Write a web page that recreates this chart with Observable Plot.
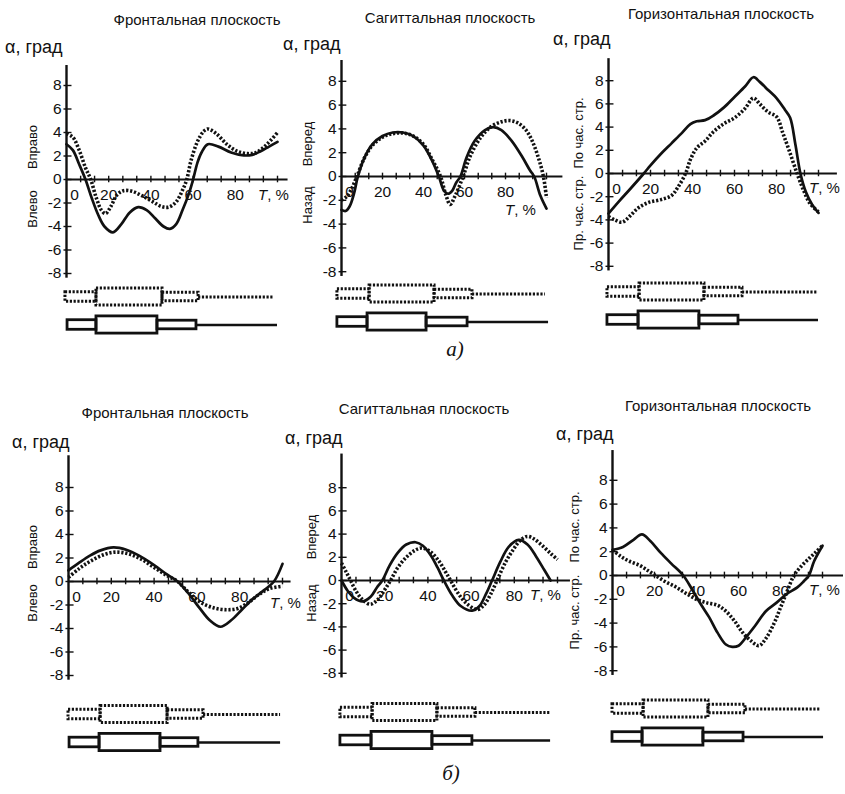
<!DOCTYPE html>
<html><head><meta charset="utf-8">
<script src="https://cdn.jsdelivr.net/npm/d3@7"></script>
<script src="https://cdn.jsdelivr.net/npm/@observablehq/plot@0.6"></script>
<style>
body{margin:0;background:#fff;}
#page{position:relative;width:845px;height:794px;overflow:hidden;font-family:"Liberation Sans",Arial,sans-serif;color:#111;background:#fff;}
#page svg{position:absolute;left:0;top:0;}
.t{position:absolute;white-space:nowrap;line-height:1.1;}
</style></head><body><div id="page"></div>
<script>
// ---------- axis values ----------
const xTicks = [6.7, 13.3, 20, 26.7, 33.3, 40, 46.7, 53.3, 60, 66.7, 73.3, 80, 86.7, 93.3, 100];
const xLabels = [20, 40, 60, 80];
const yTicks = [-8, -6, -4, -2, 0, 2, 4, 6, 8];

// ---------- а) Фронтальная ----------
const fa_s1_T = [0,3,6,9,11.5,14,16.5,18.5,21,24,27,31,36,41,45,48.5,52,55,57,59,62,65,67,71,76,81,86,90,95,100];
const fa_s1_V = [3.9,3.6,2.5,1.0,0,-1.5,-2.6,-2.9,-2.3,-1.3,-0.95,-1.0,-1.4,-1.9,-2.3,-2.35,-1.9,-0.9,0,1.6,3.2,4.1,4.3,3.9,3.0,2.4,2.2,2.3,3.0,4.0];
const fa_s2_T = [0,3,6,9,12,15,18,22,26,30,34,38,42,46,49,52,55,58,60,62,64,67,72,78,84,88,92,96,100];
const fa_s2_V = [3.0,2.5,1.3,0,-1.6,-3.0,-4.0,-4.5,-3.8,-2.8,-2.35,-2.6,-3.3,-4.0,-4.2,-3.8,-2.6,-1.2,0,1.4,2.3,3.0,2.8,2.3,2.05,2.1,2.4,2.8,3.2];
// ---------- а) Сагиттальная ----------
const sa_s1_T = [0,3,5,7.5,11,15,20,25,30,35,40,44,48.3,51,53,55.5,59.3,63,68,73,78,82,86,90,93,96,98.5,100];
const sa_s1_V = [-2.0,-1.6,-1.0,0,1.5,2.6,3.3,3.6,3.65,3.4,2.7,1.5,0,-1.6,-2.35,-1.6,0,1.8,3.3,4.2,4.6,4.7,4.5,3.9,3.0,1.6,0,-1.8];
const sa_s2_T = [0,2,4,6,8,11,15,20,25,30,35,40,44,47.5,50,52,54,56,58,61,65,70,74,78,83,88,92,94,97,100];
const sa_s2_V = [-2.8,-2.9,-2.5,-1.5,0,1.5,2.7,3.4,3.7,3.7,3.4,2.6,1.4,0,-1.2,-1.45,-1.2,-0.5,0,1.6,3.0,3.9,4.15,3.9,3.0,1.7,0.5,0,-1.6,-2.7];
// ---------- а) Горизонтальная ----------
const ha_s1_T = [0,3,6.5,10,14,19,25,30,33,36.7,39,42,46,50,55,60,65,69,72,76,80,83,86,89.8,93,96,100];
const ha_s1_V = [-3.7,-4.0,-4.2,-3.7,-3.0,-2.5,-2.25,-1.9,-1.2,0,1.2,2.2,2.8,3.6,4.3,4.8,5.6,6.5,6.0,5.3,4.9,3.5,2.0,0,-1.5,-2.6,-3.3];
const ha_s2_T = [0,5,10,16.8,20,25,30,35,39,42,46,50,55,60,65,69,72,76,80,84,86.5,89,91.4,94,97,100];
const ha_s2_V = [-3.45,-2.4,-1.4,0,0.7,1.7,2.6,3.5,4.25,4.5,4.6,5.0,5.7,6.6,7.5,8.3,7.9,7.2,6.5,5.5,4.8,2.5,0,-1.6,-2.7,-3.4];
// ---------- б) Фронтальная ----------
const fb_s1_T = [0,5,10,16,22,28,34,40,46,51,56,62,68,74,79,84,89,94,100];
const fb_s1_V = [0.35,1.1,1.7,2.25,2.5,2.35,1.9,1.2,0.5,0,-0.9,-1.8,-2.25,-2.4,-2.3,-1.8,-1.1,-0.6,-0.4];
const fb_s2_T = [0,5,10,15,21,27,33,40,46,51,56,61,66,71,76,81,86,91,96,100];
const fb_s2_V = [0.95,1.6,2.2,2.65,2.9,2.7,2.2,1.4,0.6,0,-1.0,-2.2,-3.3,-3.85,-3.3,-2.4,-1.5,-0.8,0,1.5];
// ---------- б) Сагиттальная ----------
const sb_s1_T = [0,2,4.2,7,10,13.4,17,20,22.7,26,30,34,37.3,41,45,48,50.5,54,58,62.8,66,69,72,76,80,83,86,89,93,97,100];
const sb_s1_V = [1.5,0.8,0,-1.0,-1.7,-2.05,-1.6,-0.8,0,1.1,2.0,2.6,2.8,2.5,1.7,0.8,0,-1.1,-2.0,-2.5,-2.1,-1.2,0,1.6,2.8,3.5,3.8,3.6,3.0,2.3,1.8];
const sb_s2_T = [0,2.9,5.8,9.7,13.5,16.4,18.9,22.3,26.1,30,34.3,37.7,41.6,44.5,47.4,51.3,55.2,60.5,63.9,66.8,69.7,73.5,77.4,82,86.1,90,93.9,96.8];
const sb_s2_V = [0,-0.9,-1.5,-1.8,-1.4,-0.6,0,1.3,2.4,3.1,3.3,3.0,2.1,1.1,0,-1.3,-2.2,-2.6,-2.2,-1.2,0,1.6,2.9,3.5,3.1,2.1,0.9,0];
// ---------- б) Горизонтальная ----------
const hb_s1_T = [0,4,8,13,17,20.5,25,30,35,40,45,50,54,58,62,66,69.7,73,77,80,83,86.4,90,94,97,100];
const hb_s1_V = [2.15,1.6,1.2,0.85,0.4,0,-0.5,-0.95,-1.5,-2.0,-2.3,-2.5,-3.0,-3.8,-4.8,-5.5,-5.9,-5.3,-4.0,-2.7,-1.4,0,0.8,1.5,2.0,2.5];
const hb_s2_T = [0,5,10,14,18,23,28,33.7,38,42,46,50,54,57,60,64,68,73,78,83,88,91,93.5,96,100];
const hb_s2_V = [2.15,2.4,3.0,3.45,2.9,1.9,1.0,0,-1.2,-2.4,-3.5,-4.8,-5.8,-6.0,-5.9,-5.1,-4.2,-3.0,-2.3,-1.55,-1.0,-0.5,0,1.2,2.5];

// ---------- фазы шага (границы, % цикла) ----------
const fa_s1_phases = [-0.5, 14.2, 45.5, 62.6, 98.1];
const fa_s2_phases = [0.5, 14.2, 43.1, 61.6, 100];
const sa_s1_phases = [-2, 13.7, 45.4, 63.9, 99.5];
const sa_s2_phases = [-2, 12.7, 41.5, 61.5, 101];
const ha_s1_phases = [-0.5, 14.8, 45.7, 63.8, 100];
const ha_s2_phases = [-0.5, 14.3, 43.3, 61.9, 100];
const fb_s1_phases = [0, 15, 46.3, 63.1, 99.1];
const fb_s2_phases = [0.5, 14.5, 43, 60.7, 99.1];
const sb_s1_phases = [-0.5, 14.4, 44.4, 62, 96.8];
const sb_s2_phases = [-0.5, 13.9, 42.1, 60.6, 96.8];
const hb_s1_phases = [0, 14.8, 45.7, 63.3, 99];
const hb_s2_phases = [0, 14.3, 43.3, 62.4, 100.5];

// ---------- texts ----------
const titles = ["Фронтальная плоскость", "Сагиттальная плоскость", "Горизонтальная плоскость"];
const sideUp = ["Вправо", "Вперед", "По час. стр."];
const sideDown = ["Влево", "Назад", "Пр. час. стр."];

// ---------- layout (pixels) ----------
const INK = "#111";
const panels = [
  {title:0, s1:[fa_s1_T,fa_s1_V], s2:[fa_s2_T,fa_s2_V], ph:[fa_s1_phases,fa_s2_phases],
   x0:66, kx:2.11, y0:179, ky:11.75, top:9.7, right:105, titleX:197, titleY:20, alphaX:5, alphaY:48,
   sideX:33, upY:147, downY:209, tX:258, tY:195, bar0:296.5},
  {title:1, s1:[sa_s1_T,sa_s1_V], s2:[sa_s2_T,sa_s2_V], ph:[sa_s1_phases,sa_s2_phases],
   x0:341, kx:2.05, y0:176, ky:11.9, top:9.75, right:108, titleX:450, titleY:18, alphaX:283, alphaY:45,
   sideX:308, upY:144, downY:205, tX:505, tY:210, bar0:293.5},
  {title:2, s1:[ha_s1_T,ha_s1_V], s2:[ha_s2_T,ha_s2_V], ph:[ha_s1_phases,ha_s2_phases],
   x0:608, kx:2.1, y0:173, ky:11.6, top:9.9, right:109, titleX:721, titleY:14, alphaX:553, alphaY:40,
   sideX:579, upY:133, downY:213, tX:809, tY:188, bar0:291.5},
  {title:0, s1:[fb_s1_T,fb_s1_V], s2:[fb_s2_T,fb_s2_V], ph:[fb_s1_phases,fb_s2_phases],
   x0:68, kx:2.14, y0:581, ky:11.75, top:10.7, right:104, titleX:165, titleY:413, alphaX:12, alphaY:443,
   sideX:33, upY:547, downY:603, tX:270, tY:603, bar0:714},
  {title:1, s1:[sb_s1_T,sb_s1_V], s2:[sb_s2_T,sb_s2_V], ph:[sb_s1_phases,sb_s2_phases],
   x0:341, kx:2.16, y0:580, ky:11.6, top:10.9, right:106, titleX:424, titleY:409, alphaX:285, alphaY:439,
   sideX:312, upY:537, downY:603, tX:530, tY:595, bar0:712},
  {title:2, s1:[hb_s1_T,hb_s1_V], s2:[hb_s2_T,hb_s2_V], ph:[hb_s1_phases,hb_s2_phases],
   x0:612, kx:2.1, y0:575, ky:11.9, top:10.5, right:110, titleX:718, titleY:406, alphaX:556, alphaY:435,
   sideX:575, upY:527, downY:612, tX:809, tY:590, bar0:708.5}
];
const ROW_GAP = 28;
const HALF = {small: 4.8, big: 8.6, mid: 4.3};

const page = document.getElementById("page");
function addText(html, x, y, opts = {}) {
  const d = document.createElement("div");
  d.className = "t";
  d.innerHTML = html;
  d.style.left = x + "px";
  d.style.top = y + "px";
  d.style.fontSize = (opts.size || 15) + "px";
  if (opts.family) d.style.fontFamily = opts.family;
  if (opts.italic) d.style.fontStyle = "italic";
  let tr = opts.center ? "translate(-50%,-50%)" : "translate(0,-50%)";
  if (opts.rotate) tr += " rotate(-90deg)";
  d.style.transform = tr;
  page.appendChild(d);
}

const FONT = "'Liberation Sans', Arial, sans-serif";

for (const L of panels) {
  const s1 = L.s1[0].map((t, i) => ({t, v: L.s1[1][i]}));
  const s2 = L.s2[0].map((t, i) => ({t, v: L.s2[1][i]}));
  const chart = Plot.plot({
    width: 845, height: 794, margin: 0,
    x: {domain: [0, 100], range: [L.x0, L.x0 + 100 * L.kx], axis: null},
    y: {domain: [-8, 8], range: [L.y0 + 8 * L.ky, L.y0 - 8 * L.ky], axis: null},
    style: {background: "transparent", overflow: "visible", fontFamily: FONT, color: INK},
    marks: [
      Plot.ruleX([0], {y1: -8.4, y2: L.top, stroke: INK, strokeWidth: 2.4}),
      Plot.ruleY([0], {x1: 0, x2: L.right, stroke: INK, strokeWidth: 1.8}),
      Plot.ruleY(yTicks, {y: d => d, x1: -1.2, x2: 2.6, stroke: INK, strokeWidth: 1.4}),
      Plot.ruleX(xTicks, {x: d => d, y1: -0.28, y2: 0.28, stroke: INK, strokeWidth: 1.4}),
      Plot.text(yTicks, {x: 0, y: d => d, text: d => String(d), dx: -5, textAnchor: "end", fontSize: 15.5, fill: INK}),
      Plot.text([0], {x: d => d, y: 0, text: d => String(d), dx: 8, dy: 16, fontSize: 15.5, fill: INK}),
      Plot.text(xLabels, {x: d => d, y: 0, text: d => String(d), dy: 16, fontSize: 15.5, fill: INK}),
      Plot.line(s1, {x: "t", y: "v", curve: "catmull-rom", stroke: INK, strokeWidth: 3.6, strokeDasharray: "2.2,1.8", strokeLinecap: "butt"}),
      Plot.line(s2, {x: "t", y: "v", curve: "catmull-rom", stroke: INK, strokeWidth: 2.7})
    ]
  });
  page.appendChild(chart);

  // gait phase bars
  const rows = [0, ROW_GAP];
  const kinds = ["small", "big", "mid"];
  const rects = [[], []], lines = [[], []];
  L.ph.forEach((b, r) => {
    for (let i = 0; i < 3; i++) rects[r].push({x1: b[i], x2: b[i + 1], row: rows[r], kind: kinds[i]});
    lines[r].push({x1: b[3], x2: b[4], row: rows[r]});
  });
  const bars = Plot.plot({
    width: 845, height: 794, margin: 0,
    x: {domain: [0, 100], range: [L.x0, L.x0 + 100 * L.kx], axis: null},
    y: {domain: [0, 100], range: [L.bar0, L.bar0 + 100], axis: null},
    style: {background: "transparent", overflow: "visible"},
    marks: [
      Plot.rect(rects[0], {x1: "x1", x2: "x2", y1: d => d.row - HALF[d.kind], y2: d => d.row + HALF[d.kind], fill: "none", stroke: INK, strokeWidth: 3, strokeDasharray: "2.2,1.6"}),
      Plot.ruleY(lines[0], {x1: "x1", x2: "x2", y: "row", stroke: INK, strokeWidth: 3, strokeDasharray: "2.2,1.6"}),
      Plot.rect(rects[1], {x1: "x1", x2: "x2", y1: d => d.row - HALF[d.kind], y2: d => d.row + HALF[d.kind], fill: "none", stroke: INK, strokeWidth: 2.8}),
      Plot.ruleY(lines[1], {x1: "x1", x2: "x2", y: "row", stroke: INK, strokeWidth: 2.6})
    ]
  });
  page.appendChild(bars);

  addText(titles[L.title], L.titleX, L.titleY, {size: 15, center: true});
  addText("α, град", L.alphaX, L.alphaY, {size: 18});
  addText(sideUp[L.title], L.sideX, L.upY, {size: 13, center: true, rotate: true});
  addText(sideDown[L.title], L.sideX, L.downY, {size: 13, center: true, rotate: true});
  addText("<i>T</i>, %", L.tX, L.tY, {size: 15});
}
addText("а)", 455, 350, {size: 21, center: true, italic: true, family: "'Liberation Serif', serif"});
addText("б)", 451, 774, {size: 21, center: true, italic: true, family: "'Liberation Serif', serif"});
</script>
</body></html>
